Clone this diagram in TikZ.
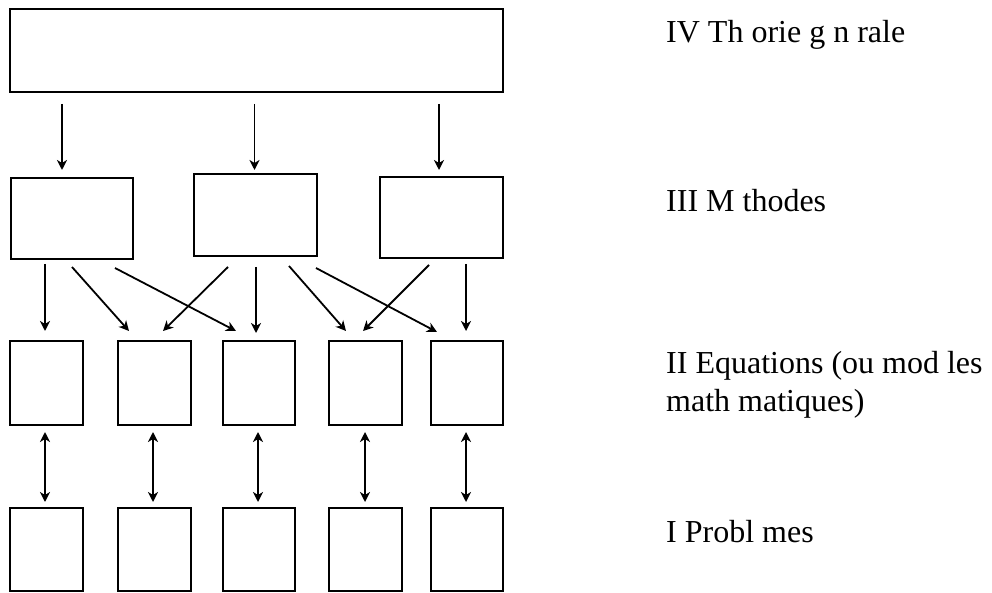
\documentclass[tikz,border=0pt]{standalone}
\usepackage{fontspec}
\setmainfont{Liberation Serif}
\usetikzlibrary{arrows.meta, positioning, calc}

\begin{document}
\begin{tikzpicture}[
    x=1pt, y=-1pt,
    box/.style={draw, line width=2pt, inner sep=0pt},
    arrow/.style={-{Stealth[length=10pt, width=10pt, inset=3pt]}, line width=1.8pt},
    biarrow/.style={{Stealth[length=10pt, width=10pt, inset=3pt]}-{Stealth[length=10pt, width=10pt, inset=3pt]}, line width=1.8pt, shorten <=6pt, shorten >=5pt},
    level/.style={anchor=base west, inner sep=0pt, align=left, font=\fontsize{32}{37.7}\selectfont}
]
\useasboundingbox (0,0) rectangle (992,593);

% --- Level IV ---
\node[box, minimum width=493pt, minimum height=83pt] (theory) at (256, 50.5) {};

% --- Level III ---
\node[box, minimum width=122pt, minimum height=81pt] (m1) at (72, 218.5) {};
\node[box, minimum width=123pt, minimum height=82pt] (m2) at (255.5, 215) {};
\node[box, minimum width=123pt, minimum height=81pt] (m3) at (441.5, 217.5) {};

% --- Level II ---
\node[box, minimum width=73pt, minimum height=84pt] (e1) at (46.5, 383) {};
\node[box, minimum width=73pt, minimum height=84pt] (e2) at (154.5, 383) {};
\node[box, minimum width=72pt, minimum height=84pt] (e3) at (259, 383) {};
\node[box, minimum width=73pt, minimum height=84pt] (e4) at (365.5, 383) {};
\node[box, minimum width=72pt, minimum height=84pt] (e5) at (467, 383) {};

% --- Level I ---
\node[box, minimum width=73pt, minimum height=83pt] (p1) at (46.5, 549.5) {};
\node[box, minimum width=73pt, minimum height=83pt] (p2) at (154.5, 549.5) {};
\node[box, minimum width=72pt, minimum height=83pt] (p3) at (259, 549.5) {};
\node[box, minimum width=73pt, minimum height=83pt] (p4) at (365.5, 549.5) {};
\node[box, minimum width=72pt, minimum height=83pt] (p5) at (467, 549.5) {};

% --- Level names ---
\node[level] (lblIV) at (666, 42.5) {IV Th orie g n rale};
\node[level] (lblIII) at (666, 211.5) {III M thodes};
\node[level] (lblII) at (666, 411.5) {II Equations (ou mod les\\math matiques)};
\node[level] (lblI) at (666, 542.5) {I Probl mes};

% --- IV to III ---
\draw[arrow] ($(m1.north |- theory.south)+(-10,11)$) -- ($(m1.north)+(-10,-7)$);
\draw[arrow] ($(m2.north |- theory.south)+(-1,11)$) -- ($(m2.north)+(-1,-3)$);
\draw[arrow] ($(m3.north |- theory.south)+(-2.5,11)$) -- ($(m3.north)+(-2.5,-6)$);

% --- III to II ---
\draw[arrow] ($(e1.north |- m1.south)+(-1.5,4)$) -- ($(e1.north)+(-1.5,-9)$);
\draw[arrow] ($(m1.south)+(0,7)$) -- ($(e2.north west)+(12,-9)$);
\draw[arrow] ($(m1.south)+(43,8)$) -- ($(e3.north west)+(14,-9)$);
\draw[arrow] ($(m2.south west)+(35,10)$) -- ($(e2.north)+(8.5,-9)$);
\draw[arrow] ($(m2.south)+(0.5,10)$) -- ($(e3.north)+(-3,-7)$);
\draw[arrow] ($(m2.south)+(33.5,9)$) -- ($(e4.north west)+(18,-9)$);
\draw[arrow] ($(m2.south east)+(-2,11)$) -- ($(e5.north west)+(7,-8)$);
\draw[arrow] ($(m3.south)+(-12.5,6)$) -- ($(e4.north)+(-2.5,-9)$);
\draw[arrow] ($(m3.south)+(24.5,5)$) -- ($(e5.north)+(-1,-9)$);

% --- II and I ---
\draw[biarrow] ($(e1.south)+(-1.5,0)$) -- ($(p1.north)+(-1.5,0)$);
\draw[biarrow] ($(e2.south)+(-1.5,0)$) -- ($(p2.north)+(-1.5,0)$);
\draw[biarrow] ($(e3.south)+(-1,0)$) -- ($(p3.north)+(-1,0)$);
\draw[biarrow] ($(e4.south)+(-0.5,0)$) -- ($(p4.north)+(-0.5,0)$);
\draw[biarrow] ($(e5.south)+(-1,0)$) -- ($(p5.north)+(-1,0)$);

\end{tikzpicture}
\end{document}
